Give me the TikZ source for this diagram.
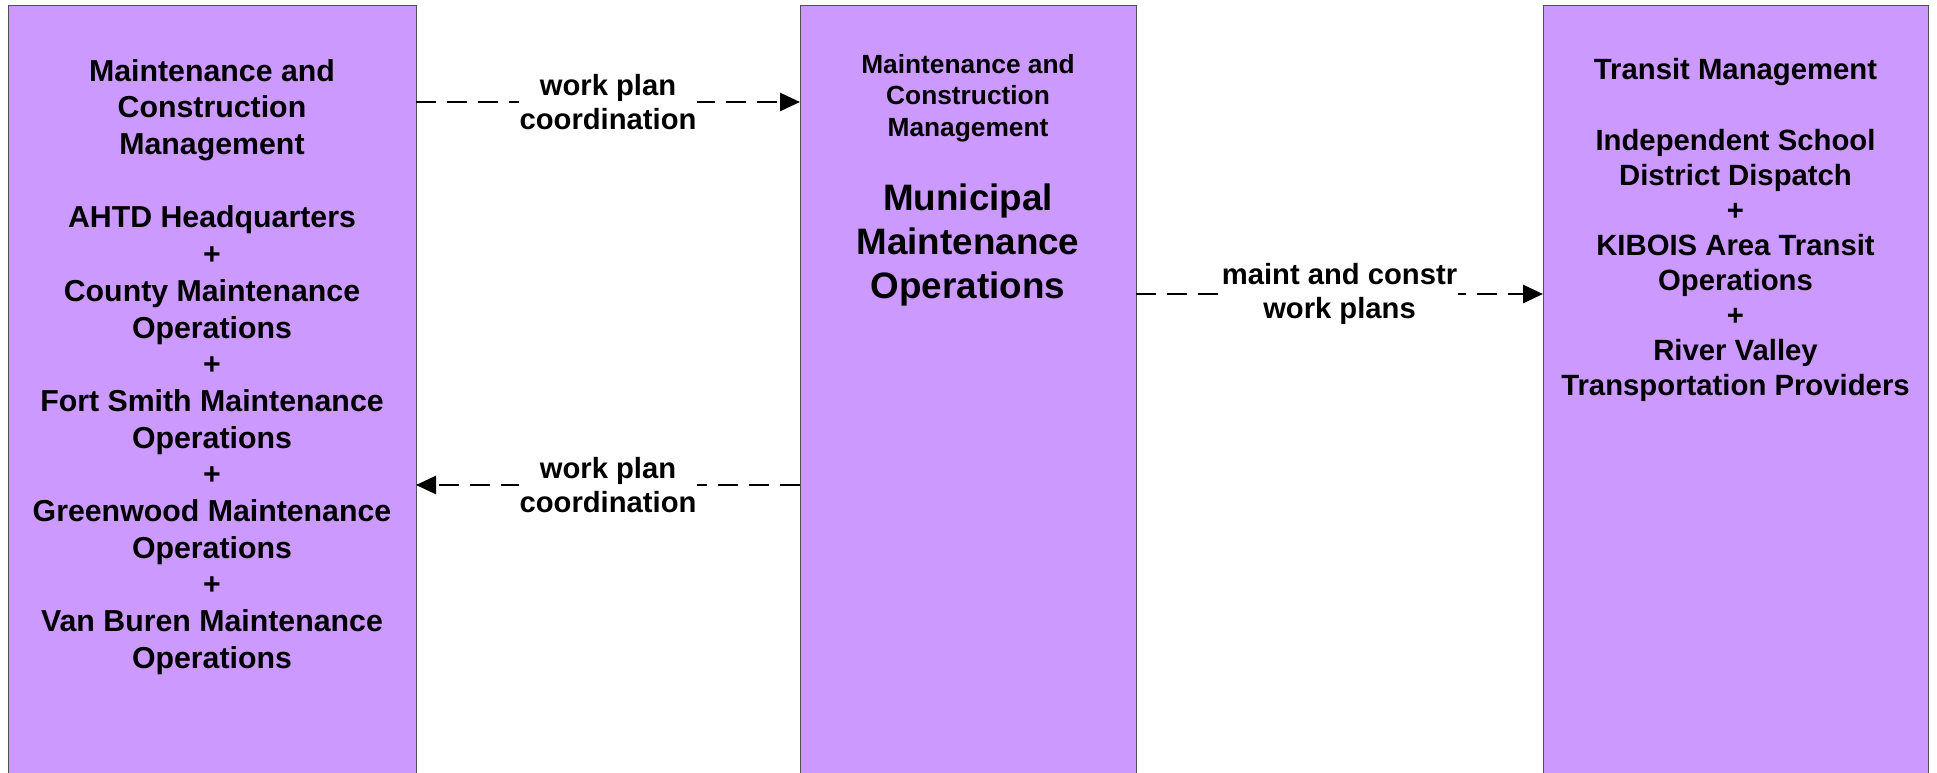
\documentclass[tikz,border=0pt]{standalone}
\usepackage{fontspec}
\setmainfont{Liberation Sans}
\usetikzlibrary{arrows.meta}
\definecolor{boxfill}{RGB}{204,153,255}
\definecolor{boxline}{RGB}{80,80,90}
\begin{document}
\begin{tikzpicture}[x=1pt,y=-1pt,
  sysbox/.style={draw=boxline, line width=1pt, fill=boxfill, anchor=north west, inner sep=0pt, outer sep=0pt, minimum height=800pt},
  boxtext/.style={align=center, anchor=north, inner sep=0pt},
  flow/.style={line width=2.8pt, dash pattern=on 20pt off 11pt, -{Triangle[length=20pt,width=18pt]}},
  flowlabel/.style={fill=white, align=center, inner sep=1pt, font=\fontsize{29.2}{34}\selectfont\bfseries}]
\useasboundingbox (0,0) rectangle (1937,773);
\clip (0,0) rectangle (1937,773);
\fill[white] (0,0) rectangle (1937,773);
\node[sysbox, minimum width=408pt] (lbox) at (8,5.5) {};
\node[sysbox, minimum width=336pt] (mbox) at (800,5.5) {};
\node[sysbox, minimum width=385pt] (rbox) at (1543,5.5) {};
\node[boxtext, font=\fontsize{30.3}{36.7}\selectfont\bfseries] (ltext) at (212,59)
  {Maintenance and\\Construction\\Management\\[36.7pt]AHTD Headquarters\\+\\County Maintenance\\Operations\\+\\Fort Smith Maintenance\\Operations\\+\\Greenwood Maintenance\\Operations\\+\\Van Buren Maintenance\\Operations};
\node[boxtext, font=\fontsize{26.3}{31.7}\selectfont\bfseries] (mhead) at (968,53.8)
  {Maintenance and\\Construction\\Management};
\node[boxtext, font=\fontsize{36.8}{44}\selectfont\bfseries] (mname) at (968,183.5)
  {Municipal\\Maintenance\\Operations};
\node[boxtext, font=\fontsize{29.3}{35.1}\selectfont\bfseries] (rtext) at (1735.5,58.4)
  {Transit Management\\[35.1pt]Independent School\\District Dispatch\\+\\KIBOIS Area Transit\\Operations\\+\\River Valley\\Transportation Providers};
\coordinate (ya) at (0,102);
\coordinate (yb) at (0,294);
\coordinate (yc) at (0,485);
\draw[flow] (lbox.east |- ya) -- (mbox.west |- ya) node[midway, flowlabel] (la) {work plan\\coordination};
\draw[flow] (mbox.east |- yb) -- (rbox.west |- yb) node[midway, flowlabel] (lb) {maint and constr\\work plans};
\draw[flow] (mbox.west |- yc) -- (lbox.east |- yc) node[midway, flowlabel] (lc) {work plan\\coordination};
\end{tikzpicture}
\end{document}
